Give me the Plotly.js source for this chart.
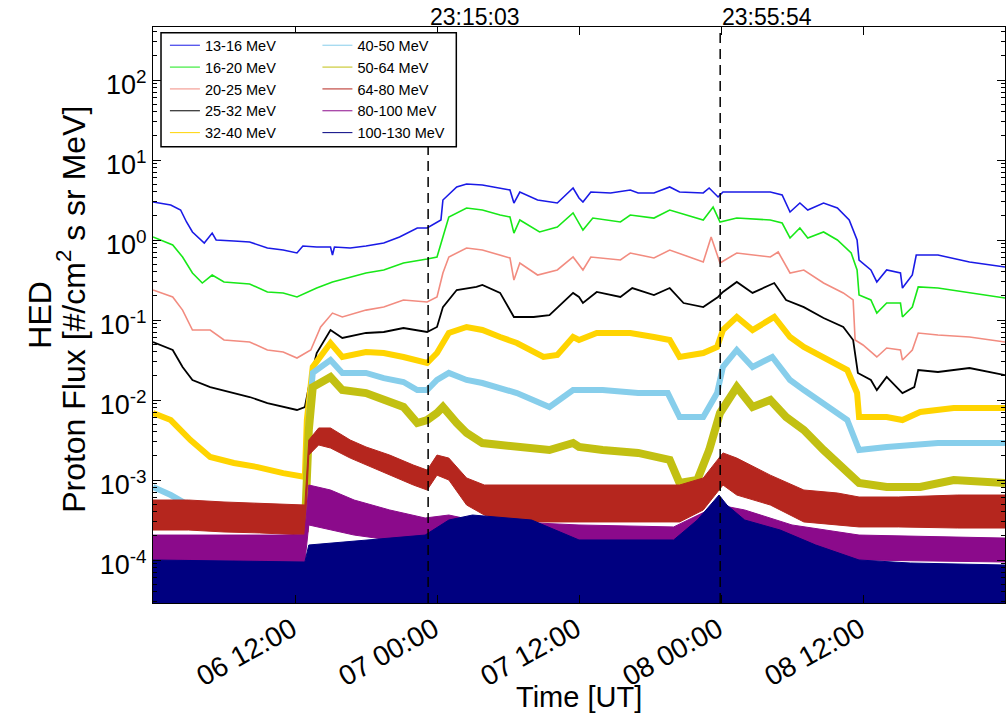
<!DOCTYPE html>
<html>
<head>
<meta charset="utf-8">
<script src="https://cdn.plot.ly/plotly-3.0.1.min.js"></script>
<style>html,body{margin:0;padding:0;background:#fff;}#chart{width:1007px;height:715px;}</style>
</head>
<body>
<div id="chart"></div>
<script>
// ---- data (time "DD HH:MM", flux) ----
const channels = ['13-16 MeV','16-20 MeV','20-25 MeV','25-32 MeV','32-40 MeV','40-50 MeV','50-64 MeV','64-80 MeV','80-100 MeV','100-130 MeV'];
const colors = ['#1a1ae6','#18e818','#f28c80','#000000','#ffd400','#87ceeb','#c2c012','#b5261e','#8b0a8b','#000080'];
const xTicks = ['06 12:00','07 00:00','07 12:00','08 00:00','08 12:00'];
const yTickVals = [1e-4,1e-3,1e-2,1e-1,1,10,100];
const yTickText = ['10<sup>-4</sup>','10<sup>-3</sup>','10<sup>-2</sup>','10<sup>-1</sup>','10<sup>0</sup>','10<sup>1</sup>','10<sup>2</sup>'];
const eventTimes = ['2017-09-06 23:15:03','2017-09-07 23:55:54'];
const eventLabels = ['23:15:03','23:55:54'];
const xTitle = 'Time [UT]';
const yTitleLines = ['HED', 'Proton Flux [#/cm<sup>2</sup> s sr MeV]'];

const ch13_16 = [['06 00:00',2.99],['06 01:30',2.74],['06 02:20',2.37],['06 02:50',1.68],['06 03:20',1.26],['06 04:20',0.917],['06 05:00',1.22],['06 05:20',1.0],['06 06:50',0.97],['06 08:10',0.944],['06 09:40',0.794],['06 11:00',0.75],['06 12:10',0.688],['06 12:40',0.841],['06 13:50',0.818],['06 15:00',0.818],['06 15:10',0.649],['06 15:20',0.818],['06 16:40',0.794],['06 18:00',0.841],['06 19:30',0.917],['06 20:50',1.09],['06 22:20',1.41],['06 23:10',1.41],['07 00:20',1.78],['07 00:30',3.16],['07 01:40',4.6],['07 02:30',5.01],['07 03:50',4.87],['07 05:20',4.47],['07 06:10',4.22],['07 06:30',2.90],['07 07:00',3.98],['07 08:30',3.16],['07 10:10',2.90],['07 11:30',4.47],['07 12:00',3.35],['07 12:20',2.99],['07 13:00',3.98],['07 14:40',3.87],['07 16:20',4.22],['07 17:00',3.87],['07 18:20',3.87],['07 19:40',4.6],['07 20:30',3.98],['07 22:30',3.87],['07 23:00',4.47],['07 23:45',3.45],['08 00:10',3.98],['08 02:10',3.98],['08 04:10',3.98],['08 05:10',3.65],['08 05:50',2.24],['08 06:40',2.90],['08 07:20',2.37],['08 08:40',2.90],['08 09:50',2.51],['08 10:50',1.78],['08 11:30',1.0],['08 11:40',0.562],['08 12:40',0.422],['08 13:10',0.299],['08 14:00',0.422],['08 15:10',0.387],['08 15:20',0.251],['08 16:10',0.365],['08 16:30',0.649],['08 18:20',0.649],['08 21:00',0.531],['09 00:00',0.46]];
const ch16_20 = [['06 00:00',1.09],['06 01:40',0.866],['06 02:30',0.613],['06 03:20',0.387],['06 04:10',0.29],['06 05:00',0.365],['06 06:00',0.299],['06 08:10',0.282],['06 09:40',0.224],['06 11:00',0.218],['06 12:10',0.194],['06 13:50',0.251],['06 15:10',0.299],['06 16:40',0.345],['06 18:00',0.387],['06 19:30',0.422],['06 21:10',0.516],['06 23:10',0.579],['07 00:00',0.613],['07 00:30',1.09],['07 01:00',1.94],['07 02:30',2.51],['07 03:50',2.37],['07 05:20',2.05],['07 06:10',1.94],['07 06:30',1.22],['07 07:00',1.78],['07 08:40',1.26],['07 10:10',1.45],['07 11:30',2.18],['07 12:00',1.63],['07 12:20',1.33],['07 13:10',1.88],['07 15:30',1.68],['07 16:20',2.05],['07 18:20',1.88],['07 19:40',2.37],['07 22:30',1.78],['07 23:20',2.58],['07 23:55',1.68],['08 01:20',1.88],['08 04:10',1.78],['08 05:10',1.63],['08 05:50',1.06],['08 06:40',1.41],['08 07:20',1.06],['08 08:40',1.26],['08 09:50',1.0],['08 11:00',0.688],['08 11:30',0.422],['08 11:40',0.205],['08 12:40',0.178],['08 13:10',0.122],['08 14:00',0.163],['08 15:10',0.163],['08 15:20',0.109],['08 16:10',0.145],['08 16:40',0.259],['08 18:20',0.251],['08 21:00',0.218],['09 00:00',0.188]];
const ch20_25 = [['06 00:00',0.237],['06 01:40',0.194],['06 02:30',0.133],['06 03:20',0.075],['06 04:50',0.075],['06 06:00',0.0562],['06 08:10',0.0531],['06 09:40',0.0422],['06 11:00',0.0398],['06 12:10',0.0335],['06 13:20',0.0422],['06 14:10',0.0818],['06 15:10',0.122],['06 16:00',0.109],['06 18:00',0.133],['06 19:30',0.145],['06 21:10',0.178],['06 23:10',0.168],['07 00:00',0.194],['07 00:30',0.387],['07 01:00',0.613],['07 02:30',0.794],['07 03:50',0.75],['07 05:20',0.649],['07 06:10',0.596],['07 06:30',0.316],['07 07:00',0.516],['07 08:30',0.365],['07 10:10',0.422],['07 11:30',0.613],['07 12:20',0.422],['07 13:00',0.613],['07 15:30',0.562],['07 16:20',0.688],['07 18:20',0.596],['07 19:40',0.75],['07 22:30',0.531],['07 23:10',1.09],['07 23:55',0.516],['08 01:20',0.688],['08 04:10',0.613],['08 04:50',0.708],['08 05:50',0.387],['08 07:00',0.422],['08 08:40',0.29],['08 10:20',0.218],['08 11:10',0.178],['08 11:20',0.0562],['08 12:00',0.0487],['08 13:10',0.0345],['08 14:00',0.0447],['08 15:10',0.0422],['08 15:20',0.0316],['08 16:10',0.0422],['08 16:40',0.0688],['08 18:20',0.0649],['08 21:00',0.0613],['09 00:00',0.0531]];
const ch25_32 = [['06 00:00',0.0531],['06 01:40',0.0422],['06 02:30',0.0259],['06 03:20',0.0178],['06 04:50',0.0145],['06 06:50',0.0122],['06 08:10',0.0109],['06 09:40',0.00917],['06 11:00',0.00818],['06 12:10',0.0075],['06 12:50',0.00818],['06 13:20',0.0194],['06 13:50',0.0387],['06 15:00',0.075],['06 16:00',0.0596],['06 18:00',0.0688],['06 19:30',0.0708],['06 21:10',0.0794],['06 23:10',0.0708],['07 00:00',0.0818],['07 00:30',0.145],['07 01:40',0.237],['07 03:20',0.259],['07 03:50',0.274],['07 05:20',0.218],['07 06:30',0.109],['07 08:10',0.109],['07 09:30',0.115],['07 11:30',0.218],['07 12:00',0.194],['07 12:20',0.163],['07 13:30',0.224],['07 15:30',0.194],['07 16:30',0.251],['07 18:20',0.205],['07 19:40',0.251],['07 20:50',0.163],['07 22:30',0.145],['07 23:45',0.194],['08 00:10',0.224],['08 01:20',0.299],['08 02:40',0.218],['08 04:30',0.29],['08 05:30',0.178],['08 07:00',0.145],['08 08:40',0.106],['08 10:20',0.0818],['08 11:10',0.0562],['08 11:34',0.0218],['08 12:40',0.0178],['08 13:10',0.0133],['08 14:00',0.0194],['08 15:20',0.0122],['08 16:20',0.0145],['08 16:40',0.0237],['08 18:20',0.0224],['08 21:00',0.0251],['09 00:00',0.0205]];
const ch32_40 = [['06 00:00',0.00688],['06 01:30',0.00562],['06 03:10',0.00316],['06 04:50',0.00194],['06 06:50',0.00163],['06 08:50',0.00145],['06 11:00',0.00122],['06 12:25',0.00109],['06 12:50',0.00109],['06 13:00',0.00562],['06 13:30',0.0259],['06 15:00',0.0516],['06 16:00',0.0345],['06 18:00',0.0398],['06 19:30',0.0387],['06 21:10',0.0345],['06 23:10',0.029],['07 00:00',0.0387],['07 01:00',0.0688],['07 02:30',0.0818],['07 03:50',0.075],['07 05:20',0.0613],['07 06:45',0.0516],['07 09:00',0.0345],['07 10:10',0.0365],['07 11:30',0.0613],['07 12:00',0.0562],['07 13:30',0.0688],['07 16:20',0.0688],['07 18:20',0.0613],['07 19:40',0.0562],['07 20:30',0.0345],['07 22:30',0.0387],['07 23:40',0.046],['08 00:10',0.075],['08 01:20',0.109],['08 02:40',0.075],['08 04:30',0.109],['08 05:50',0.0613],['08 07:00',0.046],['08 08:40',0.0345],['08 10:40',0.0237],['08 11:30',0.0122],['08 11:40',0.00613],['08 14:00',0.00613],['08 15:20',0.00562],['08 16:50',0.00708],['08 19:40',0.00794],['09 00:00',0.00794]];
const ch40_50 = [['06 00:00',0.000818],['06 01:30',0.000649],['06 03:00',0.000487],['06 06:00',0.000365],['06 12:50',0.000316],['06 13:10',0.00562],['06 13:30',0.0218],['06 15:00',0.0316],['06 16:00',0.0218],['06 18:00',0.0218],['06 19:30',0.0188],['06 21:10',0.0168],['06 22:20',0.0133],['06 23:10',0.0133],['07 00:00',0.0178],['07 01:00',0.0218],['07 02:30',0.0178],['07 03:50',0.0163],['07 06:45',0.0122],['07 09:30',0.00818],['07 11:30',0.0133],['07 14:00',0.0133],['07 17:00',0.0122],['07 19:30',0.0122],['07 20:30',0.00613],['07 22:30',0.00613],['07 23:40',0.0122],['08 00:10',0.0259],['08 01:20',0.0422],['08 02:40',0.0259],['08 04:20',0.0345],['08 05:50',0.0178],['08 07:00',0.0133],['08 08:40',0.00917],['08 10:40',0.00562],['08 11:40',0.00237],['08 14:00',0.00259],['08 18:20',0.0029],['09 00:00',0.0029]];
const ch50_64 = [['06 00:00',0.000316],['06 12:50',0.000251],['06 13:10',0.00422],['06 13:30',0.0145],['06 15:00',0.0194],['06 16:00',0.0133],['06 18:00',0.0122],['06 19:30',0.01],['06 21:10',0.00818],['06 22:20',0.00516],['06 23:10',0.00562],['07 00:00',0.00688],['07 00:30',0.00818],['07 01:40',0.00516],['07 02:30',0.00387],['07 03:50',0.0029],['07 06:45',0.00259],['07 09:30',0.00237],['07 11:30',0.0029],['07 12:00',0.00259],['07 14:00',0.00237],['07 17:00',0.00218],['07 19:40',0.00178],['07 20:30',0.000917],['07 22:00',0.001],['07 23:00',0.00237],['07 23:55',0.00688],['08 01:20',0.0145],['08 02:40',0.00818],['08 04:10',0.01],['08 05:30',0.00613],['08 07:00',0.00422],['08 08:40',0.00237],['08 10:40',0.00122],['08 11:40',0.000917],['08 14:00',0.000818],['08 16:50',0.000818],['08 19:40',0.001],['09 00:00',0.000917]];
// noisy channels: [time, lower edge, upper edge] of the noise band
const ch64_80 = [['06 00:00',0.000237,0.000562],['06 03:00',0.000237,0.000562],['06 06:00',0.000224,0.000531],['06 09:00',0.000218,0.000516],['06 12:50',0.000205,0.000487],['06 13:10',0.00205,0.00316],['06 14:00',0.00274,0.00447],['06 15:00',0.00251,0.00447],['06 16:40',0.00188,0.00316],['06 18:00',0.00154,0.00259],['06 20:00',0.00115,0.00205],['06 22:00',0.000866,0.00154],['06 23:10',0.00075,0.00133],['07 00:00',0.00115,0.00205],['07 01:00',0.001,0.00188],['07 02:30',0.000487,0.00106],['07 04:00',0.000365,0.000866],['07 06:00',0.000299,0.000866],['07 12:00',0.000299,0.000866],['07 20:30',0.000299,0.000866],['07 22:30',0.000422,0.00106],['08 00:10',0.000866,0.00218],['08 01:20',0.000649,0.00188],['08 04:10',0.000487,0.00115],['08 07:00',0.000299,0.00075],['08 09:50',0.000274,0.000688],['08 11:40',0.000259,0.000613],['08 15:00',0.000259,0.000613],['08 20:00',0.000251,0.000649],['09 00:00',0.000251,0.000649]];
const ch80_100 = [['06 00:00',0.0001,0.000205],['06 12:50',0.0000944,0.000205],['06 13:10',0.000274,0.000866],['06 15:00',0.000237,0.00075],['06 17:00',0.000205,0.000562],['06 20:00',0.000178,0.000422],['06 23:00',0.000154,0.000335],['07 01:00',0.000154,0.000365],['07 03:00',0.000133,0.000316],['07 12:00',0.000115,0.000274],['07 20:00',0.000109,0.000259],['07 23:50',0.000178,0.000487],['08 02:00',0.000154,0.000422],['08 06:00',0.000115,0.000274],['08 11:40',0.0001,0.000205],['09 00:00',0.0000944,0.000188]];
const ch100_130 = [['06 00:00',0.0001],['06 12:50',0.0000944],['06 13:10',0.000154],['06 18:00',0.000178],['06 23:00',0.000205],['07 01:00',0.000316],['07 03:00',0.000365],['07 08:00',0.000316],['07 12:00',0.000178],['07 20:00',0.000178],['07 22:00',0.000316],['07 23:50',0.000649],['08 00:30',0.000487],['08 02:00',0.000316],['08 05:00',0.000237],['08 08:00',0.000154],['08 11:40',0.0001],['08 16:00',0.0000917],['09 00:00',0.0000866]];

// ---- build ----
const iso = s => '2017-09-' + s.slice(0,2) + ' ' + s.slice(3);
const xs = arr => arr.map(p => iso(p[0]));
const col = (arr, i) => arr.map(p => p[i]);
const traces = [];
const lineSeries = [ch13_16, ch16_20, ch20_25, ch25_32, ch32_40, ch40_50, ch50_64];
const widths = [1.6, 1.6, 1.6, 1.8, 6, 6, 8];
lineSeries.forEach((s, i) => {
  traces.push({type:'scatter', mode:'lines', x: xs(s), y: col(s,1), line:{color:colors[i], width:widths[i]}, showlegend:false, hoverinfo:'skip'});
});
[ch64_80, ch80_100].forEach((s, j) => {
  const i = 7 + j;
  traces.push({type:'scatter', mode:'lines', x: xs(s), y: col(s,1), line:{color:colors[i], width:1}, showlegend:false, hoverinfo:'skip'});
  traces.push({type:'scatter', mode:'lines', x: xs(s), y: col(s,2), line:{color:colors[i], width:1}, fill:'tonexty', fillcolor:colors[i], showlegend:false, hoverinfo:'skip'});
});
traces.push({type:'scatter', mode:'lines', x: xs(ch100_130), y: col(ch100_130,1), line:{color:colors[9], width:1}, fill:'tozeroy', fillcolor:colors[9], showlegend:false, hoverinfo:'skip'});
// legend entries
channels.forEach((name, i) => {
  traces.push({type:'scatter', mode:'lines', x:[null], y:[null], name: name, line:{color:colors[i], width:1}, legend: i < 5 ? 'legend' : 'legend2'});
});

const minorVals = [];
for (let k = -5; k <= 2; k++) for (let m = 2; m <= 9; m++) minorVals.push(m * Math.pow(10, k));

const font = '"Liberation Sans", Arial, Helvetica, sans-serif';
const shapes = eventTimes.map(t => ({type:'line', xref:'x', yref:'paper', x0:t, x1:t, y0:0, y1:1, line:{color:'black', width:1.5, dash:'10px,6px'}, layer:'above'}));
shapes.push({type:'rect', xref:'paper', yref:'paper', x0:0.0094, x1:0.356, y0:0.792, y1:0.99, fillcolor:'white', line:{color:'black', width:1.5}, layer:'above'});

const annotations = eventTimes.map((t, i) => ({x:t, xref:'x', y:1, yref:'paper', text:eventLabels[i], showarrow:false, xanchor:'left', yanchor:'bottom', yshift:-5, font:{size:23, family:font}}));
annotations.push({x:0.5, xref:'paper', y:-0.163, yref:'paper', text:xTitle, showarrow:false, xanchor:'center', yanchor:'middle', font:{size:29, family:font}});
annotations.push({x:-0.133, xref:'paper', y:0.5, yref:'paper', text:yTitleLines[0], textangle:-90, showarrow:false, xanchor:'center', yanchor:'middle', font:{size:32, family:font}});
annotations.push({x:-0.0955, xref:'paper', y:0.51, yref:'paper', text:yTitleLines[1], textangle:-90, showarrow:false, xanchor:'center', yanchor:'middle', font:{size:32, family:font}});

const legendBase = {xanchor:'left', yanchor:'top', bgcolor:'rgba(0,0,0,0)', borderwidth:0, traceorder:'normal', font:{size:14.5, family:font}};
const layout = {
  width:1007, height:715,
  margin:{l:153, r:2, t:27, b:112},
  paper_bgcolor:'white', plot_bgcolor:'white',
  font:{family:font, color:'black', size:14},
  xaxis:{type:'date', range:[iso('06 00:00'), iso('09 00:00')], tickmode:'array', tickvals: xTicks.map(iso), ticktext: xTicks,
    ticks:'inside', ticklen:8, tickwidth:1, tickcolor:'black', mirror:'allticks', showline:true, linecolor:'black', linewidth:1,
    showgrid:false, zeroline:false, tickangle:-29, tickfont:{size:28, family:font}, ticklabelstandoff:-2, ticklabelshift:-3, automargin:false},
  yaxis:{type:'log', range:[-4.5375, 2.6625], tickmode:'array', tickvals:yTickVals, ticktext:yTickText,
    ticks:'inside', ticklen:8, tickwidth:1, tickcolor:'black', mirror:'allticks', showline:true, linecolor:'black', linewidth:1,
    showgrid:false, zeroline:false, tickfont:{size:27, family:font}, ticklabelshift:5, automargin:false,
    minor:{tickmode:'array', tickvals:minorVals, ticks:'inside', ticklen:4, tickcolor:'black', showgrid:false}},
  legend: Object.assign({x:0.014, y:0.996}, legendBase),
  legend2: Object.assign({x:0.193, y:0.996}, legendBase),
  shapes: shapes,
  annotations: annotations
};
Plotly.newPlot('chart', traces, layout, {displayModeBar:false, staticPlot:true});
</script>
</body>
</html>
